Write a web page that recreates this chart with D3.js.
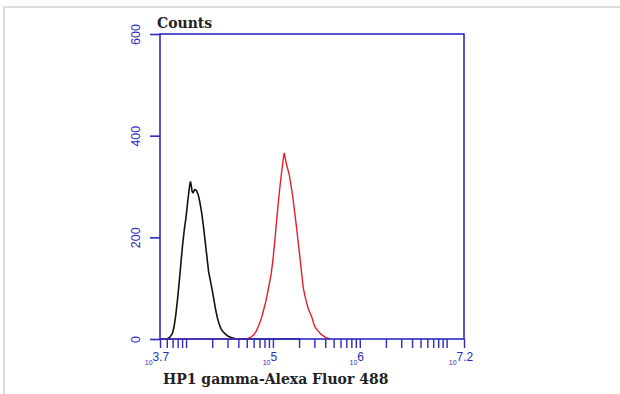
<!DOCTYPE html>
<html>
<head>
<meta charset="utf-8">
<script src="https://cdn.jsdelivr.net/npm/d3@7"></script>
<style>
  body { margin: 0; background: #fff; }
  svg { display: block; }
</style>
</head>
<body>
<div id="my_dataviz"></div>
<script>
// histogram data, x in log10 of fluorescence, y in counts
const blackLog = [3.70, 3.78, 3.81, 3.84, 3.86, 3.88, 3.90, 3.92, 3.94, 3.96, 3.98, 4.00, 4.02, 4.04, 4.05, 4.06, 4.07, 4.08, 4.10, 4.12, 4.14, 4.16, 4.18, 4.20, 4.22, 4.24, 4.26, 4.28, 4.30, 4.32, 4.34, 4.36, 4.38, 4.40, 4.42, 4.45, 4.48, 4.52, 4.56, 4.62, 5.32];
const blackCounts = [0, 0, 3, 10, 22, 45, 75, 110, 148, 185, 215, 240, 272, 300, 310, 302, 290, 288, 294, 292, 284, 268, 248, 222, 192, 162, 132, 115, 97, 78, 58, 42, 30, 21, 15, 10, 6, 3, 1, 0, 0];

const redLog = [3.70, 4.70, 4.74, 4.78, 4.81, 4.84, 4.87, 4.89, 4.92, 4.94, 4.96, 4.98, 5.00, 5.02, 5.04, 5.06, 5.08, 5.10, 5.12, 5.13, 5.14, 5.15, 5.17, 5.19, 5.21, 5.23, 5.25, 5.27, 5.29, 5.31, 5.33, 5.35, 5.37, 5.39, 5.41, 5.43, 5.45, 5.47, 5.49, 5.52, 5.55, 5.58, 5.62, 5.66];
const redCounts = [0, 0, 3, 8, 16, 28, 42, 55, 75, 92, 110, 128, 155, 190, 228, 265, 298, 328, 355, 366, 358, 348, 335, 322, 300, 278, 250, 222, 192, 162, 130, 100, 84, 70, 58, 50, 42, 30, 22, 16, 10, 6, 2, 0];

const yTicks = [0, 200, 400, 600];
const xLabelExps = ["3.7", "5", "6", "7.2"];

const W = 620, H = 394;
const axisColor = "#2b2bc0";

const svg = d3.select("#my_dataviz")
  .append("svg")
  .attr("width", W)
  .attr("height", H);

// light frame of the picture
svg.append("line").attr("x1", 3).attr("x2", W).attr("y1", 7).attr("y2", 7)
  .attr("stroke", "#dedede").attr("stroke-width", 2);
svg.append("line").attr("x1", 4).attr("x2", 4).attr("y1", 6).attr("y2", H)
  .attr("stroke", "#dedede").attr("stroke-width", 2);

const x = d3.scaleLinear().domain([3.7, 7.2]).range([160, 464]);
const y = d3.scaleLinear().domain([0, 600]).range([339, 34]);

// curves
const line = d3.line()
  .x((d) => x(d[0]))
  .y((d) => y(d[1]));

svg.append("path")
  .datum(blackLog.map((v, i) => [v, blackCounts[i]]))
  .attr("d", line)
  .attr("fill", "none")
  .attr("stroke", "#111")
  .attr("stroke-width", 1.6);

svg.append("path")
  .datum(redLog.map((v, i) => [v, redCounts[i]]))
  .attr("d", line)
  .attr("fill", "none")
  .attr("stroke", "#e0202a")
  .attr("stroke-width", 1.4);

// frame
svg.append("rect")
  .attr("x", x(3.7)).attr("y", y(600))
  .attr("width", x(7.2) - x(3.7)).attr("height", y(0) - y(600))
  .attr("fill", "none")
  .attr("stroke", axisColor)
  .attr("stroke-width", 1.6);

// Y axis
svg.append("g")
  .attr("transform", `translate(${x(3.7)},0)`)
  .call(d3.axisLeft(y).tickValues(yTicks).tickSize(10).tickSizeOuter(0).tickFormat(d3.format("d")))
  .call((g) => g.select(".domain").remove())
  .call((g) => g.selectAll("line").attr("stroke", axisColor).attr("stroke-width", 1.6))
  .call((g) => g.selectAll("text")
    .attr("fill", axisColor)
    .attr("font-family", "Liberation Sans, Arial, sans-serif")
    .attr("font-size", 12.5)
    .attr("text-anchor", "middle")
    .attr("x", 0).attr("dy", 0)
    .attr("transform", "translate(-24,0) rotate(-90)")
    .attr("y", 4));

// X axis minor/major ticks (log)
const xTickVals = [];
for (let k = 3; k <= 7; k++) {
  for (let m = 1; m <= 9; m++) {
    const v = Math.log10(m * Math.pow(10, k));
    if (v > 3.7 && v < 7.2) xTickVals.push(v);
  }
}
xTickVals.push(3.7, 7.2);

svg.append("g")
  .attr("transform", `translate(0,${y(0)})`)
  .call(d3.axisBottom(x).tickValues(xTickVals).tickSize(9).tickSizeOuter(0).tickFormat(""))
  .call((g) => g.select(".domain").remove())
  .call((g) => g.selectAll("line").attr("stroke", axisColor).attr("stroke-width", 1.4));

// X labels as 10^exp
const xl = svg.append("g")
  .attr("font-family", "Liberation Sans, Arial, sans-serif")
  .attr("fill", axisColor);
xLabelExps.forEach((e) => {
  const t = xl.append("text")
    .attr("x", x(+e) - 3)
    .attr("y", 361)
    .attr("text-anchor", "middle");
  t.append("tspan").attr("font-size", 7).attr("dy", 4).text("10");
  t.append("tspan").attr("font-size", 12).attr("dy", -4).text(e);
});

// titles
svg.append("text")
  .attr("x", 157).attr("y", 28)
  .attr("font-family", "DejaVu Serif, Georgia, serif")
  .attr("font-size", 14)
  .attr("font-weight", "bold")
  .attr("fill", "#222")
  .text("Counts");

svg.append("text")
  .attr("x", 163).attr("y", 384)
  .attr("font-family", "DejaVu Serif, Georgia, serif")
  .attr("font-size", 14)
  .attr("font-weight", "bold")
  .attr("fill", "#222")
  .text("HP1 gamma-Alexa Fluor 488");
</script>
</body>
</html>
